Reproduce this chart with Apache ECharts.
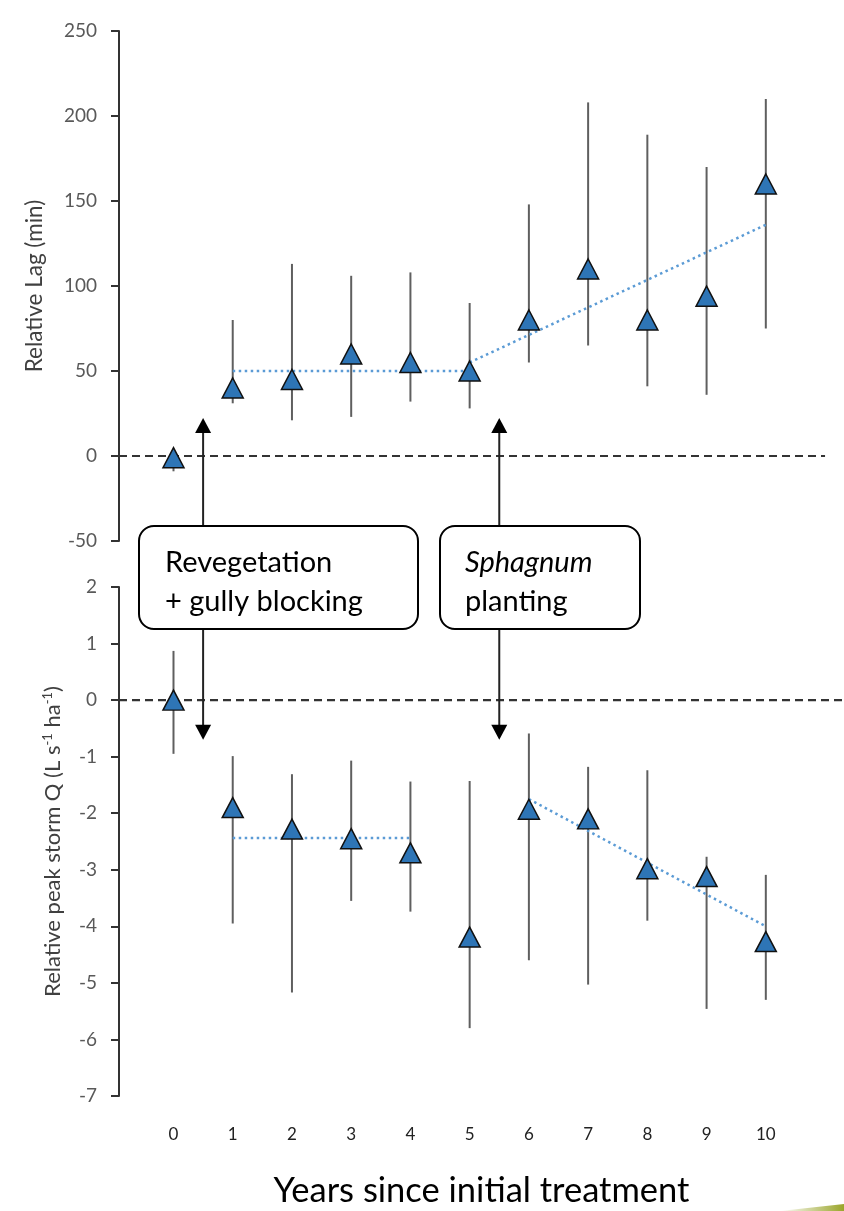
<!DOCTYPE html>
<html>
<head>
<meta charset="utf-8">
<script src="https://cdn.jsdelivr.net/npm/echarts@6/dist/echarts.min.js"></script>
<style>
html,body{margin:0;padding:0;background:#fff;}
#chart{width:844px;height:1211px;}
</style>
</head>
<body>
<div id="chart"></div>
<script>
// ---- data ----
const years = [0, 1, 2, 3, 4, 5, 6, 7, 8, 9, 10];
const xTickLabels = ['0','1','2','3','4','5','6','7','8','9','10'];

const lagMean = [-1, 40, 45, 60, 55, 50, 80, 110, 80, 94, 160];
const lagLow  = [-9, 31, 21, 23, 32, 28, 55, 65, 41, 36, 75];
const lagHigh = [3, 80, 113, 106, 108, 90, 148, 208, 189, 170, 210];

const peakMean = [0, -1.9, -2.28, -2.45, -2.7, -4.19, -1.93, -2.1, -2.98, -3.12, -4.27];
const peakLow  = [-0.95, -3.95, -5.17, -3.55, -3.74, -5.8, -4.6, -5.03, -3.9, -5.46, -5.3];
const peakHigh = [0.87, -0.99, -1.31, -1.07, -1.44, -1.43, -0.59, -1.18, -1.24, -2.77, -3.09];

// trend lines (start/end points)
const lagTrendFlat  = [[1, 50], [5, 50]];
const lagTrendSlope = [[5, 55], [10, 136]];
const peakTrendFlat  = [[1, -2.44], [4, -2.44]];
const peakTrendSlope = [[6, -1.75], [10, -4.0]];

// zero reference lines
const lagZero  = [[-0.92, 0], [11.0, 0]];
const peakZero = [[-0.92, 0], [11.32, 0]];

// treatment arrows (x position, from value, arrow-tip value)
const lagArrows  = [[[0.5, -45], [0.5, 18]], [[5.5, -45], [5.5, 18]]];
const peakArrows = [[[0.5, 1.3], [0.5, -0.57]], [[5.5, 1.3], [5.5, -0.57]]];

// ---- build ----
const FONT = 'Lato, "Open Sans", sans-serif';
const markerColor = '#2E75B6';

function errBars(mean, low, high) {
  return years.map((x, i) => [x, low[i], high[i]]);
}
function errorSeries(idx, mean, low, high) {
  return {
    type: 'custom', xAxisIndex: idx, yAxisIndex: idx, z: 2, silent: true,
    data: errBars(mean, low, high),
    renderItem: function (params, api) {
      const p1 = api.coord([api.value(0), api.value(1)]);
      const p2 = api.coord([api.value(0), api.value(2)]);
      return { type: 'line', shape: { x1: p1[0], y1: p1[1], x2: p2[0], y2: p2[1] },
               style: { stroke: '#5f5f5f', lineWidth: 2 } };
    }
  };
}
function pointSeries(idx, mean) {
  return {
    type: 'scatter', xAxisIndex: idx, yAxisIndex: idx, z: 5,
    symbol: 'triangle', symbolSize: [21, 20],
    itemStyle: { color: markerColor, borderColor: '#111', borderWidth: 1.5, opacity: 1 },
    data: years.map((x, i) => [x, mean[i]])
  };
}
function trendSeries(idx, pts) {
  return {
    type: 'line', xAxisIndex: idx, yAxisIndex: idx, z: 4, symbol: 'none', silent: true,
    lineStyle: { color: '#5B9BD5', width: 2.5, type: [2.5, 3.5] },
    data: pts
  };
}
function zeroSeries(idx, pts) {
  return {
    type: 'line', xAxisIndex: idx, yAxisIndex: idx, z: 1, symbol: 'none', silent: true,
    lineStyle: { color: '#333', width: 2.2, type: [8, 5] },
    data: pts
  };
}
function arrowSeries(idx, pts, rot) {
  return {
    type: 'line', xAxisIndex: idx, yAxisIndex: idx, z: 3, silent: true,
    lineStyle: { color: '#222', width: 2 },
    symbolRotate: rot,
    itemStyle: { color: '#000' },
    data: [
      { value: pts[0], symbol: 'none' },
      { value: pts[1], symbol: 'triangle', symbolSize: [16, 15] }
    ]
  };
}

const series = [
  zeroSeries(0, lagZero),
  zeroSeries(1, peakZero),
  errorSeries(0, lagMean, lagLow, lagHigh),
  errorSeries(1, peakMean, peakLow, peakHigh),
  trendSeries(0, lagTrendFlat),
  trendSeries(0, lagTrendSlope),
  trendSeries(1, peakTrendFlat),
  trendSeries(1, peakTrendSlope),
  pointSeries(0, lagMean),
  pointSeries(1, peakMean)
];
lagArrows.forEach(a => series.push(arrowSeries(0, a, 0)));
peakArrows.forEach(a => series.push(arrowSeries(1, a, 180)));

const yAxisCommon = {
  type: 'value',
  axisLine: { show: true, onZero: false, lineStyle: { color: '#333', width: 2 } },
  axisTick: { show: true, length: 8, lineStyle: { color: '#333', width: 2 } },
  splitLine: { show: false },
  axisLabel: { color: '#595959', fontSize: 19, fontFamily: FONT, margin: 22 },
  nameLocation: 'middle',
  nameRotate: 90,
};

const option = {
  backgroundColor: '#fff',
  animation: false,
  grid: [
    { left: 119, top: 31, width: 725, height: 510 },
    { left: 119, top: 587, width: 725, height: 509 }
  ],
  xAxis: [
    { gridIndex: 0, type: 'value', min: -0.92, max: 11.32, show: false },
    { gridIndex: 1, type: 'value', min: -0.92, max: 11.32,
      axisLine: { show: false }, axisTick: { show: false }, splitLine: { show: false },
      axisLabel: { customValues: years, formatter: v => xTickLabels[years.indexOf(v)],
                   color: '#222', fontSize: 17, fontFamily: FONT, margin: 30 },
      name: 'Years since initial treatment', nameLocation: 'middle', nameGap: 77,
      nameTextStyle: { color: '#000', fontSize: 34.5, fontFamily: FONT, lineHeight: 35 } }
  ],
  yAxis: [
    Object.assign({}, yAxisCommon, {
      gridIndex: 0, min: -50, max: 250, interval: 50,
      name: 'Relative Lag (min)', nameGap: 73,
      nameTextStyle: { color: '#404040', fontSize: 22.5, fontFamily: FONT }
    }),
    Object.assign({}, yAxisCommon, {
      gridIndex: 1, min: -7, max: 2, interval: 1,
      name: 'Relative peak storm Q (L s{sup|-1} ha{sup|-1})', nameGap: 54,
      nameTextStyle: { color: '#404040', fontSize: 22, fontFamily: FONT,
        rich: { sup: { fontSize: 13, fontFamily: FONT, color: '#404040', padding: [0, 0, 11, 0] } } }
    })
  ],
  series: series,
  graphic: [
    { type: 'rect', z: 100, shape: { x: 139, y: 526, width: 279, height: 103, r: 15 },
      style: { fill: '#fff', stroke: '#000', lineWidth: 2 } },
    { type: 'text', z: 101, left: 165, top: 543,
      style: { text: 'Revegetation\n+ gully blocking', fill: '#000', fontSize: 29,
               fontFamily: FONT, lineHeight: 39 } },
    { type: 'rect', z: 100, shape: { x: 440, y: 526, width: 200, height: 103, r: 15 },
      style: { fill: '#fff', stroke: '#000', lineWidth: 2 } },
    { type: 'text', z: 101, left: 465, top: 543,
      style: { text: '{i|Sphagnum}\nplanting', fill: '#000', fontSize: 29,
               fontFamily: FONT, lineHeight: 39,
               rich: { i: { fontStyle: 'italic', fontSize: 29, fontFamily: FONT, lineHeight: 39 } } } },
    { type: 'polygon', z: 100,
      shape: { points: [[780, 1211], [844, 1204], [844, 1211]] },
      style: { fill: { type: 'linear', x: 0, y: 0, x2: 1, y2: 0,
        colorStops: [{ offset: 0, color: 'rgba(154,165,42,0)' }, { offset: 1, color: '#9aa52a' }] } } }
  ]
};

const chart = echarts.init(document.getElementById('chart'), null, { renderer: 'canvas' });
chart.setOption(option);
</script>
</body>
</html>
